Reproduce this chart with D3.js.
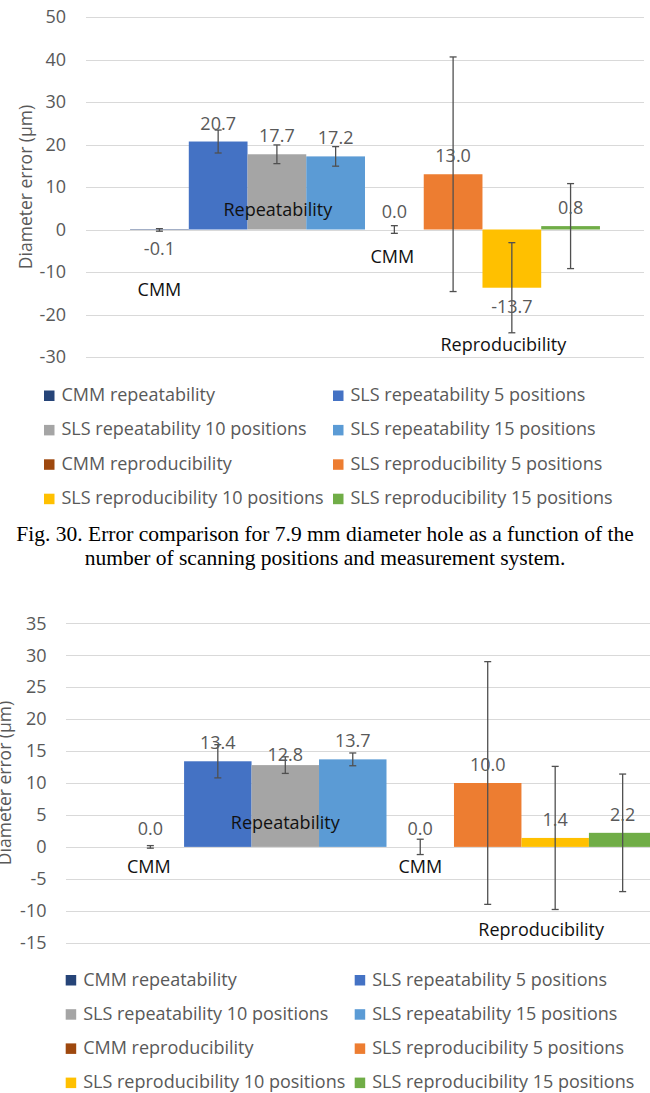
<!DOCTYPE html>
<html>
<head>
<meta charset="utf-8">
<script src="https://cdn.jsdelivr.net/npm/d3@7"></script>
<style>
  body { margin: 0; background: #fff; }
  svg { display: block; }
  .chart text { font-family: "Open Sans", "Noto Sans", sans-serif; }
  .caption text { font-family: "Liberation Serif", "Times New Roman", serif; }
</style>
</head>
<body>
<svg id="fig" width="650" height="1093"></svg>
<script>
// ---- data ----
const seriesNames = [
  "CMM repeatability", "SLS repeatability 5 positions",
  "SLS repeatability 10 positions", "SLS repeatability 15 positions",
  "CMM reproducibility", "SLS reproducibility 5 positions",
  "SLS reproducibility 10 positions", "SLS reproducibility 15 positions"
];
const seriesColors = ["#264478", "#4472C4", "#A5A5A5", "#5B9BD5",
                      "#9E480E", "#ED7D31", "#FFC000", "#70AD47"];

// 7.9 mm diameter hole (Fig. 30)
const hole79Values = [-0.1, 20.7, 17.7, 17.2, 0.0, 13.0, -13.7, 0.8];
const hole79Errors = [0.3, 2.7, 2.2, 2.3, 0.9, 27.6, 10.6, 10.0];
const hole79Ticks  = [-30, -20, -10, 0, 10, 20, 30, 40, 50];

// second hole
const hole2Values = [0.0, 13.4, 12.8, 13.7, 0.0, 10.0, 1.4, 2.2];
const hole2Errors = [0.2, 2.6, 1.3, 1.0, 1.2, 19.0, 11.2, 9.2];
const hole2Ticks  = [-15, -10, -5, 0, 5, 10, 15, 20, 25, 30, 35];

// in-plot group annotations: text, series they sit under, value level
const groupLabels      = ["CMM", "Repeatability", "CMM", "Reproducibility"];
const groupLabelSeries = [0, 2, 4, 6];
const hole79GroupLevel = [-15.6, 3.2, -7.8, -28.6];
const hole2GroupLevel  = [-4.1, 2.8, -4.1, -14.0];

const captionLines = [
  "Fig. 30. Error comparison for 7.9 mm diameter hole as a function of the",
  "number of scanning positions and measurement system."
];

// ---- drawing ----
const svg = d3.select("#fig");
const GREY = "#595959";
const fmtLabel = d => d.toFixed(1);          // plain hyphen for negatives
const fmtTick = d => String(d);

function drawChart(cfg, values, errors, ticks, groupLevel) {
  const g = svg.append("g").attr("class", "chart");
  const y = d3.scaleLinear().domain(cfg.domain).range([cfg.bottom, cfg.top]);
  const x = d3.scaleBand().domain(seriesNames).range([cfg.left, cfg.right])
              .paddingInner(0).paddingOuter(0.75);
  const bw = x.bandwidth();

  // gridlines
  g.append("g").selectAll("line").data(ticks).join("line")
    .attr("x1", cfg.left).attr("x2", cfg.right)
    .attr("y1", d => Math.round(y(d)) + 0.5).attr("y2", d => Math.round(y(d)) + 0.5)
    .attr("stroke", "#d9d9d9").attr("stroke-width", 1);

  // y axis tick labels
  const axis = d3.axisLeft(y).tickValues(ticks).tickSize(0).tickPadding(0)
                 .tickFormat(fmtTick);
  const ag = g.append("g").attr("transform", `translate(${cfg.tickX},0)`).call(axis);
  ag.select(".domain").remove();
  ag.attr("font-family", null).attr("font-size", null);
  ag.selectAll("text").attr("fill", GREY).style("font-size", cfg.tickSize + "px");

  // axis title
  g.append("text")
    .attr("transform", `translate(${cfg.titleX},${(cfg.top + cfg.bottom) / 2}) rotate(-90)`)
    .attr("text-anchor", "middle").attr("dominant-baseline", "central")
    .attr("fill", GREY).style("font-size", "17.5px")
    .text("Diameter error (\u00b5m)");

  // bars
  const y0 = y(0);
  g.append("g").selectAll("rect").data(values).join("rect")
    .attr("x", (d, i) => x(seriesNames[i]))
    .attr("width", bw)
    .attr("y", d => Math.min(y(d), y0))
    .attr("height", d => Math.abs(y(d) - y0))
    .attr("fill", (d, i) => seriesColors[i]);

  // error bars
  const eb = g.append("g").attr("stroke", "#505050").attr("stroke-width", 1.3);
  values.forEach((v, i) => {
    const cx = x(seriesNames[i]) + bw / 2;
    const yt = y(v + errors[i]), yb = y(v - errors[i]);
    eb.append("line").attr("x1", cx).attr("x2", cx).attr("y1", yt).attr("y2", yb);
    eb.append("line").attr("x1", cx - 3.5).attr("x2", cx + 3.5).attr("y1", yt).attr("y2", yt);
    eb.append("line").attr("x1", cx - 3.5).attr("x2", cx + 3.5).attr("y1", yb).attr("y2", yb);
  });

  // value labels
  g.append("g").selectAll("text").data(values).join("text")
    .attr("x", (d, i) => x(seriesNames[i]) + bw / 2)
    .attr("y", (d, i) => (d < 0 ? y(d) + 25 : y(d) - 12) + (cfg.labelNudge[i] || 0))
    .attr("text-anchor", "middle").attr("fill", GREY).style("font-size", "18px")
    .text(fmtLabel);

  // group annotations
  g.append("g").selectAll("text").data(groupLabels).join("text")
    .attr("x", (d, i) => x(seriesNames[groupLabelSeries[i]]) + bw / 2 + cfg.groupDx[i])
    .attr("y", (d, i) => y(groupLevel[i]))
    .attr("text-anchor", "middle").attr("fill", "#111").style("font-size", "18px")
    .text(d => d);

  // legend
  const lg = g.append("g");
  seriesNames.forEach((name, i) => {
    const col = i % 2, row = Math.floor(i / 2);
    const lx = cfg.legendX + col * 289, ly = cfg.legendY + row * cfg.legendStep;
    lg.append("rect").attr("x", lx).attr("y", ly - 10.5).attr("width", 10.5).attr("height", 10.5)
      .attr("fill", seriesColors[i]);
    lg.append("text").attr("x", lx + 17.5).attr("y", ly)
      .attr("fill", GREY).style("font-size", "18px").text(name);
  });
}

drawChart({
  domain: [-30, 50], top: 17, bottom: 357, left: 86, right: 644,
  tickX: 66, tickSize: 18, titleX: 24.5, legendX: 44, legendY: 401, legendStep: 34.4,
  groupDx: [0, 1, -2, -8.5], labelNudge: {}
}, hole79Values, hole79Errors, hole79Ticks, hole79GroupLevel);

// caption
svg.append("g").attr("class", "caption").selectAll("text").data(captionLines).join("text")
  .attr("x", 325).attr("y", (d, i) => 541 + i * 23.5)
  .attr("text-anchor", "middle")
  .style("font-size", "21.5px").attr("fill", "#000")
  .text(d => d);

drawChart({
  domain: [-15, 35], top: 623.3, bottom: 942.7, left: 66, right: 707,
  tickX: 46.5, tickSize: 18, titleX: 4, legendX: 65.7, legendY: 985.5, legendStep: 34.2,
  groupDx: [-1.5, 0, 0, -14], labelNudge: {2: 8}
}, hole2Values, hole2Errors, hole2Ticks, hole2GroupLevel);
</script>
</body>
</html>
